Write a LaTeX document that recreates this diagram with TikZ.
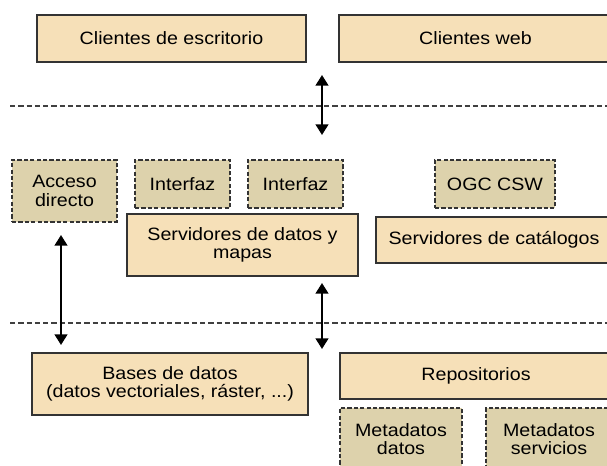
\documentclass[tikz,border=0pt]{standalone}
\usepackage{fontspec}
\setmainfont{Liberation Sans}[FakeStretch=1.1]
\usetikzlibrary{arrows.meta}
\definecolor{capa}{HTML}{F6E0B8}
\definecolor{iface}{HTML}{DDD2AC}
\definecolor{borde}{HTML}{333333}

\begin{document}
\begin{tikzpicture}[x=0.75pt,y=-0.75pt,
  font=\fontsize{13.4}{14}\selectfont,
  caja/.style={draw=borde,line width=0.9pt,fill=capa,inner sep=0pt,align=center},
  puerta/.style={draw=borde,line width=1.2pt,dash pattern=on 3.2pt off 1.6pt,fill=iface,inner sep=0pt,align=center},
  sep/.style={draw=black!75,line width=1.2pt,dash pattern=on 4pt off 2.2pt},
  flecha/.style={line width=1.7pt,{Triangle[length=8pt,width=9.5pt]}-{Triangle[length=8pt,width=9.5pt]}}]
\useasboundingbox (0,0) rectangle (607,466);
\clip (0,0) rectangle (607,466);

\node[caja,minimum width=269*0.75pt,minimum height=47*0.75pt] (escritorio) at (171.5,38.5) {Clientes de escritorio};
\node[caja,minimum width=273*0.75pt,minimum height=47*0.75pt] (web) at (475.5,38.5) {Clientes web};

\node[puerta,minimum width=105*0.75pt,minimum height=62*0.75pt] (acceso) at (64.5,191) {Acceso\\directo};
\node[puerta,minimum width=95*0.75pt,minimum height=48*0.75pt] (interfazA) at (182.5,184) {Interfaz};
\node[puerta,minimum width=95*0.75pt,minimum height=48*0.75pt] (interfazB) at (295.5,184) {Interfaz};
\node[puerta,minimum width=120*0.75pt,minimum height=48*0.75pt] (ogc) at (495,184) {OGC CSW};
\node[caja,minimum width=231*0.75pt,minimum height=62*0.75pt] (servdatos) at (242.5,245) {Servidores de datos y\\mapas};
\node[caja,minimum width=236*0.75pt,minimum height=46*0.75pt] (servcat) at (494,240) {Servidores de catálogos};

\node[caja,minimum width=276*0.75pt,minimum height=62*0.75pt] (bases) at (170,384) {Bases de datos\\(datos vectoriales, ráster, ...)};
\node[caja,minimum width=272*0.75pt,minimum height=46*0.75pt] (repos) at (476,376) {Repositorios};
\node[puerta,minimum width=122*0.75pt,minimum height=62*0.75pt] (metadatos) at (401,439) {Metadatos\\datos};
\node[puerta,minimum width=126*0.75pt,minimum height=62*0.75pt] (metaserv) at (549,439) {Metadatos\\servicios};

\draw[sep] (10,106) -- (607,106);
\draw[sep] (10,323) -- (607,323);

\coordinate (clientesA) at (322,75);
\coordinate (clientesB) at (322,135);
\coordinate (accesoA) at (61,235);
\coordinate (accesoB) at (61,345);
\coordinate (datosA) at (322,283);
\coordinate (datosB) at (322,349);
\draw[flecha] (clientesA) -- (clientesB);
\draw[flecha] (accesoA) -- (accesoB);
\draw[flecha] (datosA) -- (datosB);
\end{tikzpicture}
\end{document}
